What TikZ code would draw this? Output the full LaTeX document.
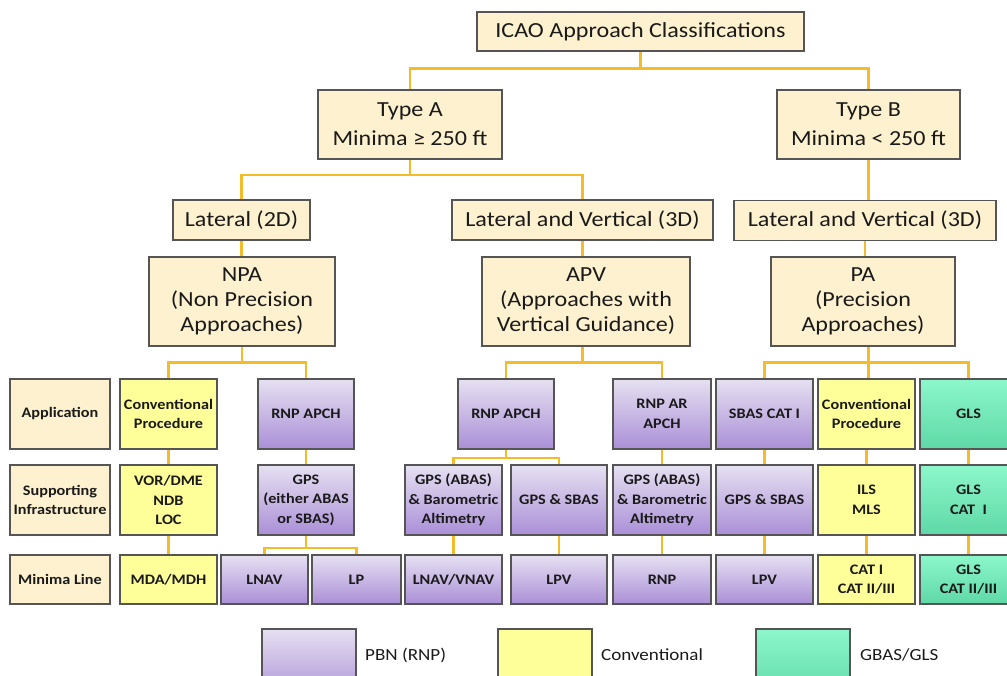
\documentclass[tikz,border=0pt]{standalone}
\usepackage{fontspec}
\setmainfont[FakeStretch=1.12]{Carlito}
\definecolor{beige}{HTML}{FDF1CF}
\definecolor{frame}{HTML}{555555}
\definecolor{link}{HTML}{F5BC2A}
\definecolor{purpleTop}{HTML}{E6E0F1}
\definecolor{purpleBot}{HTML}{AA8FD7}
\definecolor{yellowFill}{HTML}{FFFF99}
\definecolor{greenTop}{HTML}{8CF7CB}
\definecolor{greenBot}{HTML}{5FD8A6}
\definecolor{ink}{HTML}{1A1A1A}
\tikzset{
  base/.style={draw=frame, line width=1.8pt, inner sep=0pt, align=center, text=ink},
  bigbox/.style={base, fill=beige, font=\fontsize{21.5}{29}\selectfont},
  tallbox/.style={base, fill=beige, font=\fontsize{21.5}{25}\selectfont},
  cell/.style={base, font=\fontsize{14.5}{19.5}\selectfont\bfseries, minimum width=97pt},
  rowlabel/.style={cell, fill=beige, minimum width=100pt},
  pbn/.style={cell, top color=purpleTop, bottom color=purpleBot},
  conv/.style={cell, fill=yellowFill},
  gls/.style={cell, top color=greenTop, bottom color=greenBot},
  rowA/.style={minimum height=70pt},
  rowB/.style={minimum height=70pt},
  rowC/.style={minimum height=49pt},
  wire/.style={draw=link, line width=2.6pt},
  legendtext/.style={anchor=west, inner sep=0pt, text=ink, font=\fontsize{17}{20}\selectfont}
}
\begin{document}
\begin{tikzpicture}[x=1pt, y=-1pt]
\useasboundingbox (0,0) rectangle (1007,675);

% upper hierarchy
\node[bigbox, minimum width=327pt, minimum height=39pt] (icao) at (640.5,31.5) {ICAO Approach Classifications};
\node[bigbox, minimum width=184pt, minimum height=69pt] (typeA) at (410,124.5) {Type A\\Minima ≥ 250 ft};
\node[bigbox, minimum width=183pt, minimum height=69pt] (typeB) at (868.5,124.5) {Type B\\Minima < 250 ft};
\node[bigbox, minimum width=137pt, minimum height=40pt] (lat) at (241.5,220) {Lateral (2D)};
\node[bigbox, minimum width=261pt, minimum height=40pt] (latvA) at (582.5,220) {Lateral and Vertical (3D)};
\node[bigbox, minimum width=262pt, minimum height=40pt] (latvB) at (865,220.5) {Lateral and Vertical (3D)};
\node[tallbox, minimum width=186pt, minimum height=89pt] (npa) at (242,301.5) {NPA\\(Non Precision\\Approaches)};
\node[tallbox, minimum width=208pt, minimum height=89pt] (apv) at (586,301.5) {APV\\(Approaches with\\Vertical Guidance)};
\node[tallbox, minimum width=184pt, minimum height=89pt] (pa) at (863,301.5) {PA\\(Precision\\Approaches)};

% row labels
\node[rowlabel, rowA] (lblApp) at (60,414) {Application};
\node[rowlabel, rowB] (lblInf) at (60,500) {Supporting\\Infrastructure};
\node[rowlabel, rowC] (lblMin) at (60,579.5) {Minima Line};

% NPA branch
\node[conv, rowA] (convA) at (168.5,414) {Conventional\\Procedure};
\node[conv, rowB] (vor) at (168.5,500) {VOR/DME\\NDB\\LOC};
\node[conv, rowC] (mda) at (168.5,579.5) {MDA/MDH};
\node[pbn, rowA, minimum width=96pt] (rnpA) at (306,414) {RNP APCH};
\node[pbn, rowB, minimum width=96pt] (gpsA) at (306,500) {GPS\\(either ABAS\\or SBAS)};
\node[pbn, rowC, minimum width=87pt] (lnav) at (264.5,579.5) {LNAV};
\node[pbn, rowC, minimum width=89pt] (lp) at (356.5,579.5) {LP};

% APV branch
\node[pbn, rowA, minimum width=96pt] (rnpB) at (506,414) {RNP APCH};
\node[pbn, rowB] (baroA) at (453.5,500) {GPS (ABAS)\\\& Barometric\\Altimetry};
\node[pbn, rowB, minimum width=96pt] (sbasA) at (559,500) {GPS \& SBAS};
\node[pbn, rowC] (lnvn) at (453.5,579.5) {LNAV/VNAV};
\node[pbn, rowC, minimum width=96pt] (lpvA) at (559,579.5) {LPV};
\node[pbn, rowA, minimum width=98pt] (rnpar) at (662,414) {RNP AR\\APCH};
\node[pbn, rowB, minimum width=98pt] (baroB) at (662,500) {GPS (ABAS)\\\& Barometric\\Altimetry};
\node[pbn, rowC, minimum width=98pt] (rnp) at (662,579.5) {RNP};

% PA branch
\node[pbn, rowA] (sbascat) at (764.5,414) {SBAS CAT I};
\node[pbn, rowB] (sbasB) at (764.5,500) {GPS \& SBAS};
\node[pbn, rowC] (lpvB) at (764.5,579.5) {LPV};
\node[conv, rowA] (convB) at (866.5,414) {Conventional\\Procedure};
\node[conv, rowB] (ils) at (866.5,500) {ILS\\MLS};
\node[conv, rowC] (cat) at (866.5,579.5) {CAT I\\CAT II/III};
\node[gls, rowA] (glsA) at (968.5,414) {GLS};
\node[gls, rowB] (glsB) at (968.5,500) {GLS\\CAT~~I};
\node[gls, rowC] (glsC) at (968.5,579.5) {GLS\\CAT II/III};

% connectors: upper tree
\draw[wire] (icao.south) -- ++(0,16.5) coordinate (jTop);
\draw[wire] (typeA.north) |- (jTop) -| (typeB.north);
\draw[wire] (typeA.south) -- ++(0,15) coordinate (jA);
\draw[wire] (lat.north) |- (jA) -| (latvA.north);
\draw[wire] (typeB.south) -- (typeB.south |- latvB.north);
\draw[wire] (lat.south) -- (lat.south |- npa.north);
\draw[wire] (latvA.south) -- (latvA.south |- apv.north);
\draw[wire] (latvB.south) -- (latvB.south |- pa.north);

% connectors: NPA
\draw[wire] (npa.south) -- ++(0,15.5) coordinate (jN);
\draw[wire] (convA.north) |- (jN) -| (rnpA.north);
\draw[wire] (convA) -- (vor);
\draw[wire] (vor) -- (mda);
\draw[wire] (rnpA) -- (gpsA);
\draw[wire] (gpsA.south) -- ++(0,12) coordinate (jG);
\draw[wire] (lnav.north) |- (jG) -| (lp.north);

% connectors: APV
\draw[wire] (apv.south -| latvA.south) -- ++(0,15.5) coordinate (jV);
\draw[wire] (rnpB.north) |- (jV) -| (rnpar.north);
\draw[wire] (rnpB.south) -- ++(0,8) coordinate (jR);
\draw[wire] (baroA.north) |- (jR) -| (sbasA.north);
\draw[wire] (baroA) -- (lnvn);
\draw[wire] (sbasA) -- (lpvA);
\draw[wire] (rnpar) -- (baroB);
\draw[wire] (baroB) -- (rnp);

% connectors: PA
\draw[wire] (pa.south -| typeB.south) -- ++(0,15.5) coordinate (jP);
\draw[wire] (sbascat.north) |- (jP) -| (glsA.north);
\draw[wire] (jP) -- (jP |- convB.north);
\draw[wire] (sbascat) -- (sbasB);
\draw[wire] (sbasB) -- (lpvB);
\draw[wire] (convB) -- (ils);
\draw[wire] (ils) -- (cat);
\draw[wire] (glsA) -- (glsB);
\draw[wire] (glsB) -- (glsC);

% legend
\node[base, top color=purpleTop, bottom color=purpleBot, minimum width=94pt, minimum height=72pt, anchor=north] (legP) at (309,628) {};
\node[legendtext] (legPt) at (365,655) {PBN (RNP)};
\node[base, fill=yellowFill, minimum width=94pt, minimum height=72pt, anchor=north] (legC) at (545,628) {};
\node[legendtext] (legCt) at (601,655) {Conventional};
\node[base, top color=greenTop, bottom color=greenBot, minimum width=94pt, minimum height=72pt, anchor=north] (legG) at (803,628) {};
\node[legendtext] (legGt) at (860,655) {GBAS/GLS};
\end{tikzpicture}
\end{document}
